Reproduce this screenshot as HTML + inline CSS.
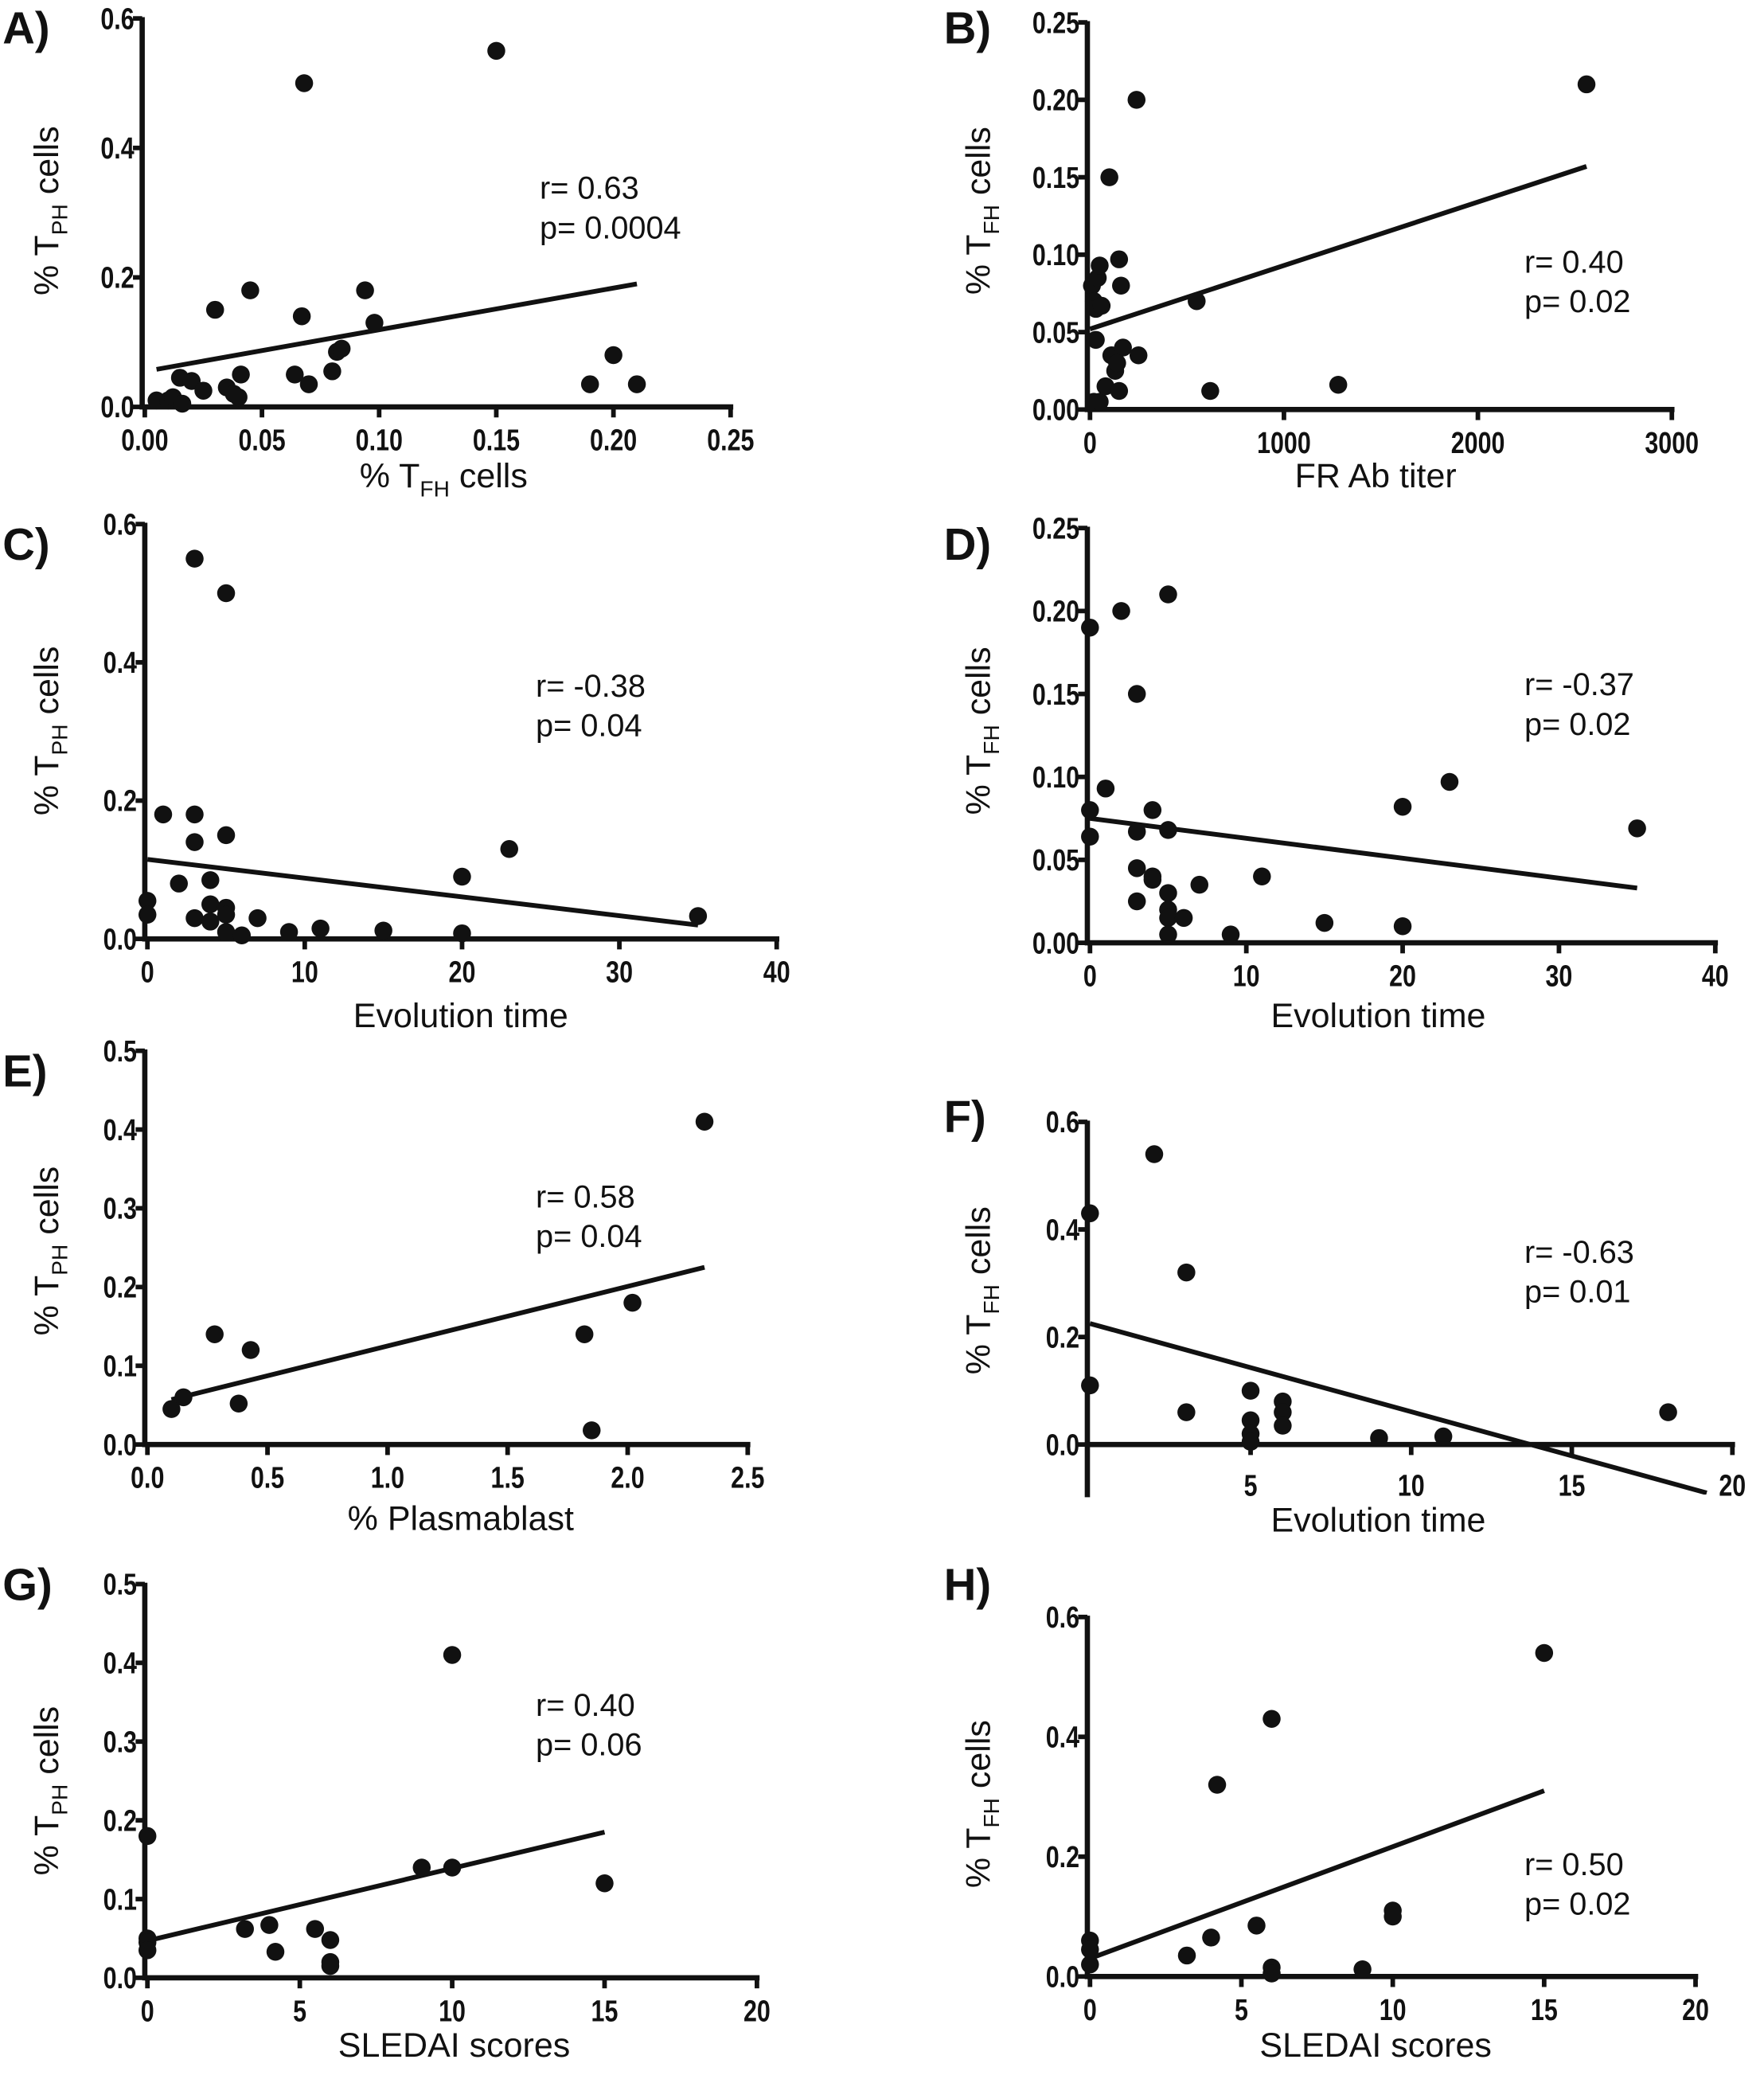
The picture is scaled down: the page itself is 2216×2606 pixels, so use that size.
<!DOCTYPE html>
<html><head><meta charset="utf-8"><style>
html,body{margin:0;padding:0;background:#fff}
svg{display:block}
text{font-family:"Liberation Sans",Arial,sans-serif;fill:#111}
.tick{font-weight:bold;font-size:23px}
.ttl{font-size:26px}
.stat{font-size:24px}
.let{font-weight:bold;font-size:34px}
</style></head><body>
<svg id="fig" xmlns="http://www.w3.org/2000/svg" width="2216" height="2606" viewBox="0 0 1340 1575.8"></svg>
<script>
// ---- data ----
const aX=[0.005,0.01,0.012,0.015,0.016,0.02,0.025,0.03,0.035,0.038,0.04,0.041,0.045,0.064,0.067,0.07,0.068,0.08,0.082,0.084,0.094,0.098,0.15,0.19,0.20,0.21];
const aY=[0.01,0.01,0.015,0.045,0.005,0.04,0.025,0.15,0.03,0.02,0.015,0.05,0.18,0.05,0.14,0.035,0.5,0.055,0.085,0.09,0.18,0.13,0.55,0.035,0.08,0.035];
const aFit=[[0.005,0.058],[0.21,0.19]];
const bX=[10,20,30,40,30,50,60,20,50,80,100,110,130,150,150,160,170,240,250,140,550,620,1280,2560];
const bY=[0.08,0.07,0.065,0.085,0.045,0.093,0.067,0.005,0.005,0.015,0.15,0.035,0.025,0.012,0.097,0.08,0.04,0.2,0.035,0.03,0.07,0.012,0.016,0.21];
const bFit=[[0,0.052],[2560,0.157]];
const cX=[0,0,1,2,3,3,3,3,4,4,4,5,5,5,5,5,6,7,9,11,15,20,20,23,35];
const cY=[0.055,0.035,0.18,0.08,0.55,0.18,0.14,0.03,0.085,0.05,0.025,0.5,0.15,0.045,0.035,0.01,0.005,0.03,0.01,0.015,0.012,0.09,0.008,0.13,0.033];
const cFit=[[0,0.115],[35,0.02]];
const dX=[0,0,0,1,2,3,3,3,3,4,4,4,5,5,5,5,5,5,6,7,9,11,15,20,20,23,35];
const dY=[0.19,0.08,0.064,0.093,0.2,0.15,0.067,0.045,0.025,0.08,0.04,0.038,0.21,0.068,0.03,0.02,0.015,0.005,0.015,0.035,0.005,0.04,0.012,0.082,0.01,0.097,0.069];
const dFit=[[0,0.075],[35,0.033]];
const eX=[0.1,0.15,0.28,0.38,0.43,1.82,1.85,2.02,2.32];
const eY=[0.045,0.06,0.14,0.052,0.12,0.14,0.018,0.18,0.41];
const eFit=[[0.1,0.057],[2.32,0.225]];
const fX=[0,0,2,3,3,5,5,5,5,6,6,6,9,11,18];
const fY=[0.43,0.11,0.54,0.32,0.06,0.1,0.045,0.02,0.005,0.08,0.06,0.035,0.012,0.015,0.06];
const fFit=[[0,0.225],[19.2,-0.09]];
const gX=[0,0,0,0,3.2,4,4.2,5.5,6,6,6,9,10,10,15];
const gY=[0.18,0.05,0.045,0.035,0.062,0.067,0.033,0.062,0.048,0.02,0.015,0.14,0.14,0.41,0.12];
const gFit=[[0,0.047],[15,0.185]];
const hX=[0,0,0,3.2,4,4.2,5.5,6,6,6,9,10,10,15];
const hY=[0.06,0.045,0.02,0.035,0.065,0.32,0.085,0.43,0.015,0.005,0.012,0.11,0.1,0.54];
const hFit=[[0,0.03],[15,0.31]];
const tA=[0,0.05,0.1,0.15,0.2,0.25], tAl=["0.00","0.05","0.10","0.15","0.20","0.25"];
const t06=[0,0.2,0.4,0.6], t06l=["0.0","0.2","0.4","0.6"];
const t025=[0,0.05,0.1,0.15,0.2,0.25], t025l=["0.00","0.05","0.10","0.15","0.20","0.25"];
const tB=[0,1000,2000,3000], tBl=["0","1000","2000","3000"];
const t40=[0,10,20,30,40], t40l=["0","10","20","30","40"];
const t05=[0,0.1,0.2,0.3,0.4,0.5], t05l=["0.0","0.1","0.2","0.3","0.4","0.5"];
const t25=[0,0.5,1,1.5,2,2.5], t25l=["0.0","0.5","1.0","1.5","2.0","2.5"];
const t20=[0,5,10,15,20], t20l=["0","5","10","15","20"];
const tF=[5,10,15,20], tFl=["5","10","15","20"];

const NS="http://www.w3.org/2000/svg";
const svg=document.getElementById('fig');
function mk(tag,at,parent){const e=document.createElementNS(NS,tag);for(const k in at)e.setAttribute(k,at[k]);(parent||svg).appendChild(e);return e;}

function panel(p){
  const g=mk('g',{});
  
  
  const sx=v=>p.px[0]+(v-p.xr[0])/(p.xr[1]-p.xr[0])*(p.px[1]-p.px[0]);
  const sy=v=>p.py[0]+(v-p.yr[0])/(p.yr[1]-p.yr[0])*(p.py[1]-p.py[0]);
  const ax=p.px[0]-2, xAxisY=p.py[0];
  const yb=p.yBottom||xAxisY;
  const ya=mk('line',{x1:ax,y1:sy(p.yt[p.yt.length-1])-1,x2:ax,y2:yb+2,stroke:'#111','stroke-width':4},g);
  
  
  const xa=mk('line',{x1:ax,y1:xAxisY,x2:sx(p.xt[p.xt.length-1])+2,y2:xAxisY,stroke:'#111','stroke-width':4},g);
  
  
  p.yt.forEach((v,i)=>{
    mk('line',{x1:ax-7,y1:sy(v),x2:ax,y2:sy(v),stroke:'#111','stroke-width':3.5},g);
    const t=mk('text',{x:ax-6,y:sy(v)+8,'text-anchor':'end',class:'tick',transform:`translate(${ax-6},0) scale(0.8,1) translate(${-(ax-6)},0)`},g);
    t.textContent=p.ytl[i];
    
    
  });
  p.xt.forEach((v,i)=>{
    const X=sx(v);
    mk('line',{x1:X,y1:xAxisY,x2:X,y2:xAxisY+8,stroke:'#111','stroke-width':3.5},g);
    const ly=(p.xLabY||xAxisY+33);
    const t=mk('text',{x:X,y:ly,'text-anchor':'middle',class:'tick',transform:`translate(${X},0) scale(0.8,1) translate(${-X},0)`},g);
    t.textContent=p.xtl[i];
    
    
  });
  const cp='clip'+p.id;
  const cl=mk('clipPath',{id:cp},g);
  mk('rect',{x:ax,y:0,width:2000,height:yb},cl);
  const fl=mk('line',{x1:sx(p.fit[0][0]),y1:sy(p.fit[0][1]),x2:sx(p.fit[1][0]),y2:sy(p.fit[1][1]),stroke:'#111','stroke-width':3.6,'clip-path':`url(#${cp})`},g);
  
  
  p.x.forEach((v,i)=>{
    const c=mk('circle',{cx:sx(v),cy:sy(p.y[i]),r:6.8,fill:'#111'},g);
    
    
  });
  const xt=mk('text',{x:p.xtitle[0],y:p.xtitle[1],'text-anchor':'middle',class:'ttl'},g);
  if(p.xsub){xt.innerHTML='% T<tspan font-size="17" dy="7">FH</tspan><tspan dy="-7"> cells</tspan>';}
  else xt.textContent=p.xname;
  
  
  const yt=mk('text',{x:0,y:0,'text-anchor':'middle',class:'ttl',transform:`translate(${p.ytitle[0]},${p.ytitle[1]}) rotate(-90)`},g);
  yt.innerHTML='% T<tspan font-size="17" dy="7">'+p.ysub+'</tspan><tspan dy="-7"> cells</tspan>';
  
  
  const l=mk('text',{x:p.letter[0],y:p.letter[1],class:'let'},g);
  l.textContent=p.id+')';
  
  
  const s1=mk('text',{x:p.stat[0],y:p.stat[1],class:'stat'},g);
  s1.textContent='r= '+p.r;
  
  
  const s2=mk('text',{x:p.stat[0],y:p.stat[1]+30,class:'stat'},g);
  s2.textContent='p= '+p.p;
  
  
}

panel({id:'A',x:aX,y:aY,fit:aFit,xr:[0,0.25],px:[110,555],yr:[0,0.6],py:[309,14],xt:tA,xtl:tAl,yt:t06,ytl:t06l,xsub:true,xtitle:[337,370],ysub:'PH',ytitle:[44,160],letter:[2,33],stat:[410,151],r:'0.63',p:'0.0004'});
panel({id:'B',x:bX,y:bY,fit:bFit,xr:[0,3000],px:[828,1270],yr:[0,0.25],py:[311,17],xt:tB,xtl:tBl,yt:t025,ytl:t025l,xname:'FR Ab titer',xtitle:[1045,370],ysub:'FH',ytitle:[752,160],letter:[717,33],stat:[1158,207],r:'0.40',p:'0.02'});
panel({id:'C',x:cX,y:cY,fit:cFit,xr:[0,40],px:[112,590],yr:[0,0.6],py:[713,398],xt:t40,xtl:t40l,yt:t06,ytl:t06l,xname:'Evolution time',xtitle:[350,780],ysub:'PH',ytitle:[44,555],letter:[2,425],stat:[407,529],r:'-0.38',p:'0.04'});
panel({id:'D',x:dX,y:dY,fit:dFit,xr:[0,40],px:[828,1303],yr:[0,0.25],py:[716,401],xt:t40,xtl:t40l,yt:t025,ytl:t025l,xname:'Evolution time',xtitle:[1047,780],ysub:'FH',ytitle:[752,555],letter:[717,425],stat:[1158,528],r:'-0.37',p:'0.02'});
panel({id:'E',x:eX,y:eY,fit:eFit,xr:[0,2.5],px:[112,568],yr:[0,0.5],py:[1097,798],xt:t25,xtl:t25l,yt:t05,ytl:t05l,xname:'% Plasmablast',xtitle:[350,1162],ysub:'PH',ytitle:[44,950],letter:[2,825],stat:[407,917],r:'0.58',p:'0.04'});
panel({id:'F',x:fX,y:fY,fit:fFit,xr:[0,20],px:[828,1316],yr:[0,0.6],py:[1097,852],yBottom:1135,xLabY:1136,xt:tF,xtl:tFl,yt:t06,ytl:t06l,xname:'Evolution time',xtitle:[1047,1163],ysub:'FH',ytitle:[752,980],letter:[717,860],stat:[1158,959],r:'-0.63',p:'0.01'});
panel({id:'G',x:gX,y:gY,fit:gFit,xr:[0,20],px:[112,575],yr:[0,0.5],py:[1502,1203],xt:t20,xtl:t20l,yt:t05,ytl:t05l,xname:'SLEDAI scores',xtitle:[345,1562],ysub:'PH',ytitle:[44,1360],letter:[2,1215],stat:[407,1303],r:'0.40',p:'0.06'});
panel({id:'H',x:hX,y:hY,fit:hFit,xr:[0,20],px:[828,1288],yr:[0,0.6],py:[1501,1228],xt:t20,xtl:t20l,yt:t06,ytl:t06l,xname:'SLEDAI scores',xtitle:[1045,1562],ysub:'FH',ytitle:[752,1370],letter:[717,1215],stat:[1158,1424],r:'0.50',p:'0.02'});
</script>
</body></html>
